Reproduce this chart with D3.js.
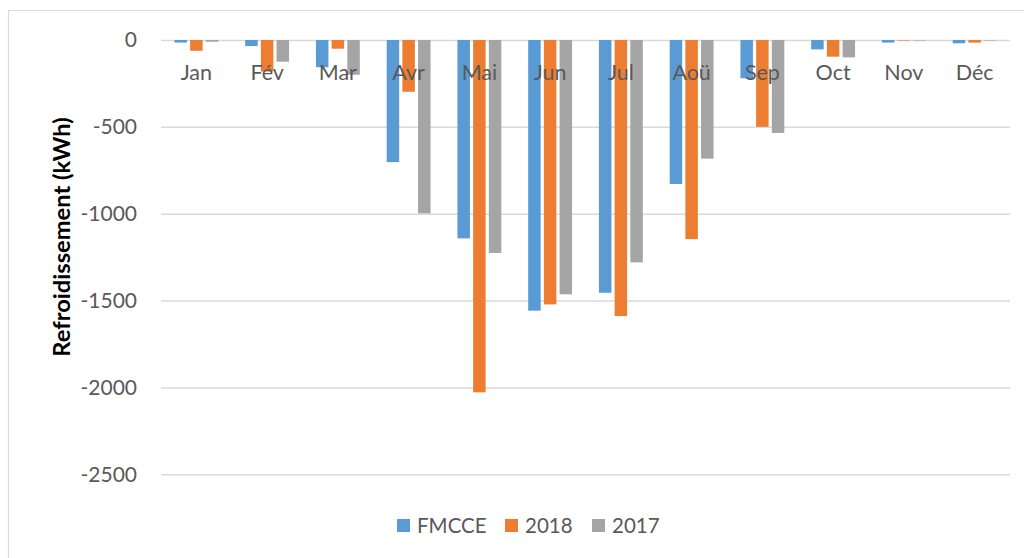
<!DOCTYPE html>
<html>
<head>
<meta charset="utf-8">
<script src="https://cdn.jsdelivr.net/npm/d3@7"></script>
<style>
  html, body { margin: 0; padding: 0; background: #fff; }
  svg { display: block; }
  text { font-family: Lato, "Liberation Sans", sans-serif; }
</style>
</head>
<body>
<svg id="chart" width="1024" height="558"></svg>
<script>
const months = ["Jan", "Fév", "Mar", "Avr", "Mai", "Jun", "Jul", "Aoü", "Sep", "Oct", "Nov", "Déc"];
const seriesNames = ["FMCCE", "2018", "2017"];
const fmcce = [-15, -35, -157, -703, -1142, -1558, -1455, -829, -220, -54, -15, -19];
const y2018 = [-62, -182, -50, -298, -2028, -1522, -1589, -1146, -500, -96, -3, -15];
const y2017 = [-10, -125, -200, -998, -1226, -1464, -1280, -683, -535, -100, -3, -3];
const yTicks = [0, -500, -1000, -1500, -2000, -2500];
const colors = ["#5B9BD5", "#ED7D31", "#A5A5A5"];

const seriesValues = [fmcce, y2018, y2017];
const svg = d3.select("#chart");

const plotLeft = 161, plotRight = 1010, plotTop = 40, plotBottom = 474.3;

// chart frame
svg.append("path")
  .attr("d", "M8.5,560 V10.5 H1030")
  .attr("fill", "none")
  .attr("stroke", "#d9d9d9")
  .attr("stroke-width", 1.2);

const x0 = d3.scaleBand().domain(months).range([plotLeft, plotRight]).padding(0);
const bw = x0.bandwidth();
const groupW = bw * 0.62;
const x1 = d3.scaleBand().domain(seriesNames)
  .range([(bw - groupW) / 2, (bw + groupW) / 2])
  .paddingInner(0.204).paddingOuter(0);
const y = d3.scaleLinear().domain([-2500, 0]).range([plotBottom, plotTop]);

// gridlines
const grid = svg.append("g").attr("transform", `translate(${plotLeft},0)`)
  .call(d3.axisLeft(y).tickValues(yTicks).tickSize(-(plotRight - plotLeft)).tickFormat(""));
grid.select(".domain").remove();
grid.selectAll(".tick line").attr("stroke", "#d9d9d9").attr("stroke-width", 1.5);

// y axis labels
const yAxis = svg.append("g").attr("transform", `translate(137,0)`)
  .call(d3.axisLeft(y).tickValues(yTicks).tickSize(0).tickPadding(0).tickFormat(d => String(d)));
yAxis.select(".domain").remove();
yAxis.selectAll("text")
  .attr("fill", "#595959")
  .style("font-size", "21px")
  .style("font-family", "Lato, 'Liberation Sans', sans-serif");

// bars
const rows = months.map((m, i) => ({ month: m, vals: seriesNames.map((s, j) => ({ s, j, v: seriesValues[j][i] })) }));
const groups = svg.append("g").selectAll("g").data(rows).join("g")
  .attr("transform", d => `translate(${x0(d.month)},0)`);
groups.selectAll("rect").data(d => d.vals).join("rect")
  .attr("x", d => x1(d.s))
  .attr("width", x1.bandwidth())
  .attr("y", d => y(0))
  .attr("height", d => y(d.v) - y(0))
  .attr("fill", d => colors[d.j]);

// x axis labels (drawn over bars)
const xAxis = svg.append("g").attr("transform", `translate(0,${y(0)})`)
  .call(d3.axisBottom(x0).tickSize(0).tickPadding(0));
xAxis.select(".domain").remove();
xAxis.selectAll("text")
  .attr("dy", null)
  .attr("y", 39.5)
  .attr("fill", "#595959")
  .style("font-size", "21.5px")
  .style("font-family", "Lato, 'Liberation Sans', sans-serif");

// y axis title
svg.append("text")
  .attr("transform", "translate(69.5,237) rotate(-90)")
  .attr("text-anchor", "middle")
  .attr("fill", "#000")
  .style("font-size", "23.7px")
  .style("font-weight", "bold")
  .text("Refroidissement (kWh)");

// legend
const legendX = [397, 505, 592];
const legend = svg.append("g").selectAll("g").data(seriesNames).join("g")
  .attr("transform", (d, i) => `translate(${legendX[i]},519)`);
legend.append("rect").attr("width", 13).attr("height", 13).attr("fill", (d, i) => colors[i]);
legend.append("text").attr("x", 20).attr("y", 13.5)
  .attr("fill", "#595959").style("font-size", "20.5px").text(d => d);
</script>
</body>
</html>
